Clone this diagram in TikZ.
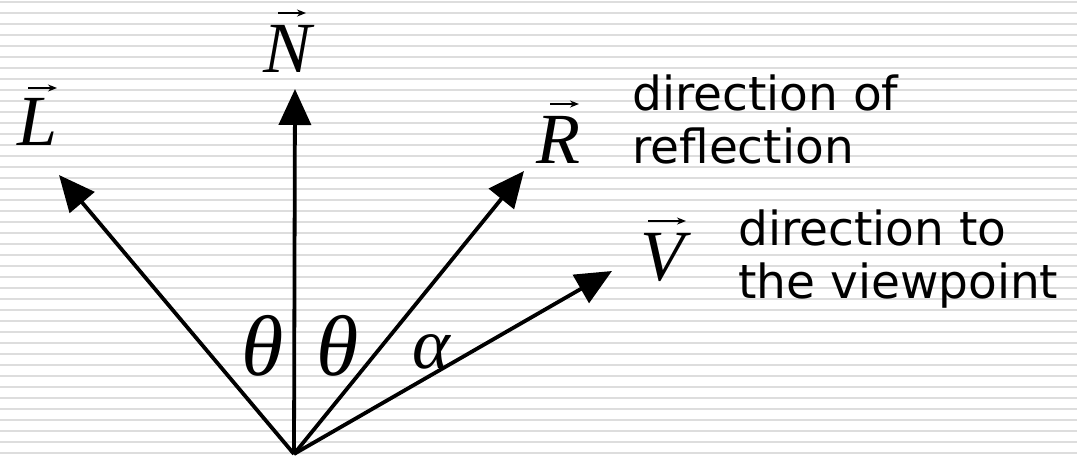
\documentclass[tikz,border=0pt]{standalone}
\usepackage{fontspec}
\usetikzlibrary{arrows.meta}
\newfontfamily\sansf{DejaVu Sans}
\newfontfamily\serf{Liberation Serif}
\definecolor{stripe}{RGB}{221,221,221}
\tikzset{
  vecarrow/.style={line width=3.8pt,-{Triangle[length=36pt,width=32pt]}},
  sym/.style={font=\serf\itshape\fontsize{72}{80}\selectfont, inner sep=0pt, anchor=base},
  greek/.style={font=\serf\itshape\fontsize{86}{90}\selectfont, inner sep=0pt, anchor=base},
  desc/.style={font=\sansf\fontsize{47}{55}\selectfont, inner sep=0pt, anchor=base west, align=left},
  overarr/.style={line width=2.2pt,-{Stealth[length=9pt,width=7pt]}},
}
\begin{document}
\begin{tikzpicture}[x=1pt,y=-1pt]
\useasboundingbox (0,0) rectangle (1077,456);
\fill[white] (0,0) rectangle (1077,456);
\foreach \k in {0,...,41}{
  \fill[stripe] (0,{0.7+11*\k}) rectangle (1077,{2.7+11*\k});
}
\coordinate (O) at (294,454);
\coordinate (Ltip) at (59,175);
\coordinate (Ntip) at (295,89);
\coordinate (Rtip) at (524,171);
\coordinate (Vtip) at (612,271);
\draw[vecarrow] (O) -- (Ltip);
\draw[vecarrow] (O) -- (Ntip);
\draw[vecarrow] (O) -- (Rtip);
\draw[vecarrow] (O) -- (Vtip);
% symbol labels
\node[sym] (N) at (288,72) {N};
\node[sym] (L) at (38,145) {L};
\node[sym] (R) at (558,163) {R};
\node[sym] (V) at (662,280) {V};
\coordinate (Na) at (278,13); \coordinate (Nb) at (306,13);
\coordinate (La) at (28,88); \coordinate (Lb) at (57,88);
\coordinate (Ra) at (550,104); \coordinate (Rb) at (579,104);
\coordinate (Va) at (648,221); \coordinate (Vb) at (686,221);
\draw[overarr] (Na) -- (Nb);
\draw[overarr] (La) -- (Lb);
\draw[overarr] (Ra) -- (Rb);
\draw[overarr] (Va) -- (Vb);
\node[greek] (t1) at (263,375) {θ};
\node[greek] (t2) at (338,375) {θ};
\node[sym] (al) at (431,368) {α};
% descriptions
\node[desc] (d1) at (632,110) {direction of};
\node[desc] (d2) at (632,163) {reflection};
\node[desc] (d3) at (738,245) {direction to};
\node[desc] (d4) at (738,298) {the viewpoint};
\end{tikzpicture}
\end{document}
